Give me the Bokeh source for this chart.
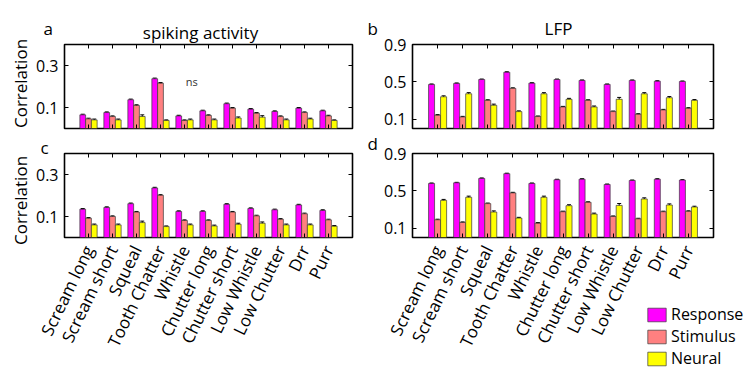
import math
from bokeh.plotting import figure
from bokeh.models import (ColumnDataSource, FixedTicker, LinearAxis, Label, Legend,
                          LegendItem, Whisker, TeeHead, Range1d, GridBox)
from bokeh.layouts import column, row
from bokeh.embed import file_html
from bokeh.resources import INLINE

FONT = "Open Sans"

categories = ["Scream long", "Scream short", "Squeal", "Tooth Chatter", "Whistle",
              "Chutter long", "Chutter short", "Low Whistle", "Low Chutter", "Drr", "Purr"]
series_names = ["Response", "Stimulus", "Neural"]
colors = ["#FF00FF", "#FF8080", "#FFFF00"]

# panel a: spiking activity (top)
spk_a_resp = [0.065, 0.076, 0.137, 0.237, 0.060, 0.084, 0.118, 0.092, 0.081, 0.097, 0.084]
spk_a_stim = [0.046, 0.057, 0.110, 0.216, 0.038, 0.062, 0.097, 0.073, 0.057, 0.076, 0.060]
spk_a_neur = [0.041, 0.041, 0.057, 0.038, 0.041, 0.041, 0.050, 0.054, 0.041, 0.045, 0.038]
spk_a_err = [[0.003] * 11, [0.003] * 11,
             [0.004, 0.004, 0.008, 0.003, 0.004, 0.004, 0.005, 0.007, 0.004, 0.004, 0.003]]

# panel b: LFP (top)
lfp_b_resp = [0.472, 0.483, 0.525, 0.603, 0.486, 0.525, 0.515, 0.472, 0.515, 0.507, 0.504]
lfp_b_stim = [0.143, 0.124, 0.302, 0.430, 0.128, 0.231, 0.302, 0.181, 0.153, 0.199, 0.217]
lfp_b_neur = [0.340, 0.372, 0.249, 0.181, 0.372, 0.313, 0.231, 0.313, 0.372, 0.330, 0.302]
lfp_b_err = [[0.005] * 11, [0.006] * 11,
             [0.010, 0.012, 0.012, 0.008, 0.012, 0.010, 0.010, 0.020, 0.012, 0.012, 0.008]]

# panel c: spiking activity (bottom)
spk_c_resp = [0.135, 0.143, 0.161, 0.236, 0.124, 0.124, 0.158, 0.138, 0.132, 0.155, 0.129]
spk_c_stim = [0.092, 0.100, 0.121, 0.201, 0.081, 0.081, 0.121, 0.103, 0.087, 0.113, 0.084]
spk_c_neur = [0.060, 0.060, 0.071, 0.052, 0.060, 0.055, 0.063, 0.068, 0.060, 0.060, 0.054]
spk_c_err = [[0.003] * 11, [0.003] * 11,
             [0.004, 0.004, 0.007, 0.003, 0.004, 0.004, 0.005, 0.006, 0.004, 0.004, 0.003]]

# panel d: LFP (bottom)
lfp_d_resp = [0.579, 0.586, 0.633, 0.684, 0.579, 0.619, 0.625, 0.568, 0.611, 0.625, 0.615]
lfp_d_stim = [0.190, 0.161, 0.363, 0.478, 0.154, 0.276, 0.377, 0.225, 0.200, 0.276, 0.280]
lfp_d_neur = [0.398, 0.431, 0.273, 0.208, 0.431, 0.341, 0.251, 0.344, 0.413, 0.348, 0.327]
lfp_d_err = [[0.005] * 11, [0.006] * 11,
             [0.010, 0.012, 0.012, 0.008, 0.012, 0.010, 0.010, 0.020, 0.012, 0.012, 0.008]]

spk_ticks = [0.1, 0.3]
lfp_ticks = [0.1, 0.5, 0.9]
ns_x, ns_y = 5.3, 0.19

xpos = list(range(1, len(categories) + 1))
offsets = [-0.24, 0.0, 0.24]
BAR_W = 0.24


def tick_axis(ticks, labelled):
    ax = LinearAxis(ticker=FixedTicker(ticks=ticks))
    ax.axis_line_color = None
    ax.major_tick_in = 4
    ax.major_tick_out = 0
    ax.minor_tick_line_color = None
    if not labelled:
        ax.major_label_text_color = None
        ax.major_label_text_font_size = "0px"
        ax.major_label_standoff = 0
    return ax


def make_panel(width, height, mb, yend, yticks, series, errs, show_labels):
    left, right, top, bottom = mb
    p = figure(width=width, height=height, output_backend="svg", toolbar_location=None,
               x_range=Range1d(0, 12), y_range=Range1d(0, yend),
               min_border_left=left, min_border_right=right,
               min_border_top=top, min_border_bottom=bottom,
               x_axis_location=None, y_axis_location=None)
    p.background_fill_color = "white"
    p.border_fill_color = "white"
    p.outline_line_color = "black"
    p.outline_line_width = 1.6
    p.xgrid.visible = False
    p.ygrid.visible = False

    for vals, err, off, col in zip(series, errs, offsets, colors):
        xs = [x + off for x in xpos]
        src = ColumnDataSource(dict(x=xs, top=vals,
                                    lo=[v - e for v, e in zip(vals, err)],
                                    hi=[v + e for v, e in zip(vals, err)]))
        p.vbar(x="x", top="top", width=BAR_W, bottom=0, source=src,
               fill_color=col, line_color="#3a3a3a", line_width=0.7)
        w = Whisker(source=src, base="x", upper="hi", lower="lo",
                    line_color="black", line_width=1,
                    upper_head=TeeHead(size=4, line_color="black", line_width=1),
                    lower_head=TeeHead(size=4, line_color="black", line_width=1))
        p.add_layout(w)

    xb = tick_axis(xpos, show_labels)
    if show_labels:
        xb.major_label_overrides = {i + 1: c for i, c in enumerate(categories)}
        xb.major_label_orientation = math.radians(64)
        xb.major_label_text_font = FONT
        xb.major_label_text_font_size = "17px"
        xb.major_label_text_color = "black"
        xb.major_label_standoff = 9
    p.add_layout(xb, "below")
    p.add_layout(tick_axis(xpos, False), "above")

    yl = tick_axis(yticks, True)
    yl.major_label_text_font = FONT
    yl.major_label_text_font_size = "16px"
    yl.major_label_text_color = "black"
    yl.major_label_standoff = 6
    p.add_layout(yl, "left")
    p.add_layout(tick_axis(yticks, False), "right")
    return p


pa = make_panel(366, 133, (64, 14, 44, 5), 0.4, spk_ticks,
                [spk_a_resp, spk_a_stim, spk_a_neur], spk_a_err, False)
pb = make_panel(382, 133, (46, 35, 43, 5), 0.9, lfp_ticks,
                [lfp_b_resp, lfp_b_stim, lfp_b_neur], lfp_b_err, False)
pc = make_panel(366, 242, (64, 14, 20, 138), 0.4, spk_ticks,
                [spk_c_resp, spk_c_stim, spk_c_neur], spk_c_err, True)
pd = make_panel(382, 242, (46, 35, 20, 137), 0.9, lfp_ticks,
                [lfp_d_resp, lfp_d_stim, lfp_d_neur], lfp_d_err, True)

pa.add_layout(Label(x=ns_x, y=ns_y, text="ns", text_font=FONT, text_font_size="11px",
                    text_color="#333333", text_align="center"))

# transparent overlay holding texts outside the plot frames and the legend
W, H = 748, 375
ov = figure(width=W, height=H, output_backend="svg", toolbar_location=None,
            x_range=Range1d(0, W), y_range=Range1d(H, 0),
            min_border=0, x_axis_location=None, y_axis_location=None)
ov.outline_line_color = None
ov.background_fill_alpha = 0
ov.border_fill_alpha = 0
ov.xgrid.visible = False
ov.ygrid.visible = False

texts = [  # (x, y, text, angle, align)
    (43, 28, "a", 0, "left"),
    (200, 32, "spiking activity", 0, "center"),
    (367, 28, "b", 0, "left"),
    (558, 28, "LFP", 0, "center"),
    (40, 147, "c", 0, "left"),
    (367, 143, "d", 0, "left"),
    (20, 83, "Correlation", math.pi / 2, "center"),
    (20, 200, "Correlation", math.pi / 2, "center"),
]
for x, y, t, ang, al in texts:
    ov.add_layout(Label(x=x, y=y, text=t, angle=ang, text_align=al,
                        text_baseline="alphabetic", text_font=FONT,
                        text_font_size="17px", text_color="black"))

# legend swatches: placeholder renderers holding no drawable point
nan = float("nan")
dummies = [ov.vbar(x=[nan], top=[nan], width=1, fill_color=c, line_color="#3a3a3a",
                   line_width=0.7) for c in colors]
legend = Legend(items=[LegendItem(label=n, renderers=[r]) for n, r in zip(series_names, dummies)],
                location=(645, 6))
legend.label_text_font = FONT
legend.label_text_font_size = "16px"
legend.label_text_color = "black"
legend.glyph_width = 23
legend.glyph_height = 17
legend.label_height = 17
legend.spacing = 0
legend.label_standoff = 3
legend.padding = 0
legend.margin = 0
legend.border_line_alpha = 0
legend.background_fill_alpha = 0
ov.add_layout(legend, "center")

panels = column(row(pa, pb), row(pc, pd))
layout = GridBox(children=[(panels, 0, 0), (column(ov), 0, 0)])
open("out.html", "w").write(file_html(layout, INLINE))
